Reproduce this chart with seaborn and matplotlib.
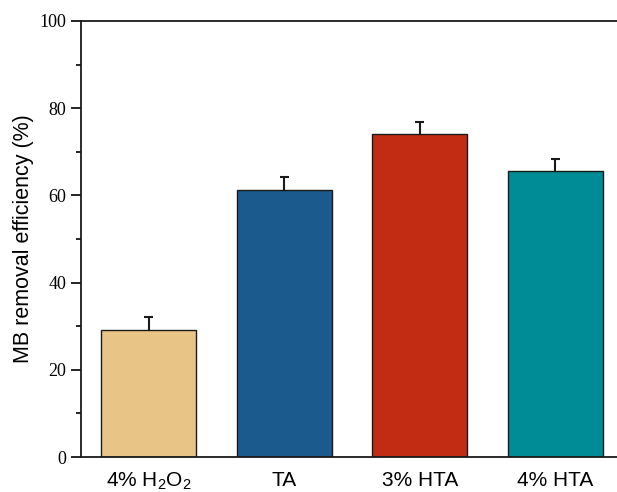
import numpy as np
import pandas as pd
import matplotlib
matplotlib.use("Agg")
import matplotlib.pyplot as plt
import seaborn as sns
from matplotlib.ticker import MultipleLocator

samples = ["4% H$_2$O$_2$", "TA", "3% HTA", "4% HTA"]
removal = [29.2, 61.3, 74.1, 65.5]
err = [3.0, 3.0, 2.8, 2.9]
colors = ["#E9C487", "#1B5A8C", "#C22C12", "#008C96"]

sns.set_style("ticks")
plt.rcParams["font.family"] = ["Liberation Sans", "DejaVu Sans"]
plt.rcParams["mathtext.fontset"] = "custom"
plt.rcParams["mathtext.rm"] = "Liberation Sans"
plt.rcParams["mathtext.it"] = "Liberation Sans"
plt.rcParams["text.color"] = "black"
plt.rcParams["axes.labelcolor"] = "black"
plt.rcParams["xtick.color"] = "black"
plt.rcParams["ytick.color"] = "black"

df = pd.DataFrame({"sample": samples, "removal": removal})

fig = plt.figure(figsize=(6.17, 4.92), dpi=100)
ax = fig.add_axes([81 / 617, 35 / 492, 542 / 617, 436 / 492])

sns.barplot(data=df, x="sample", y="removal", hue="sample", palette=colors,
            saturation=1, width=0.70, edgecolor="#1a1a1a", linewidth=1.0,
            legend=False, ax=ax)

# 上側だけの誤差棒
xs = np.arange(len(samples))
tops = np.array(removal) + np.array(err)
ax.vlines(xs, removal, tops, color="#1a1a1a", linewidth=1.5, zorder=3)
ax.hlines(tops, xs - 0.035, xs + 0.035, color="#1a1a1a", linewidth=1.5, zorder=3)

ax.set_xlim(-0.5, 3.5)
ax.set_ylim(0, 100)
ax.yaxis.set_major_locator(MultipleLocator(20))
ax.yaxis.set_minor_locator(MultipleLocator(10))
ax.tick_params(axis="y", which="major", length=7, width=1.2, direction="out")
ax.tick_params(axis="y", which="minor", length=3.5, width=1.2, direction="out")
ax.tick_params(axis="x", length=0, labelsize=15, pad=10)
for lbl in ax.get_yticklabels():
    lbl.set_fontfamily("Liberation Serif")
    lbl.set_fontsize(13)
ax.set_xlabel("")
ax.set_ylabel("MB removal efficiency (%)", fontsize=15.5, labelpad=4)

ax.spines["right"].set_visible(False)
for s in ["left", "top", "bottom"]:
    ax.spines[s].set_linewidth(1.3)
    ax.spines[s].set_color("#1a1a1a")

fig.savefig("out.png", dpi=100)
